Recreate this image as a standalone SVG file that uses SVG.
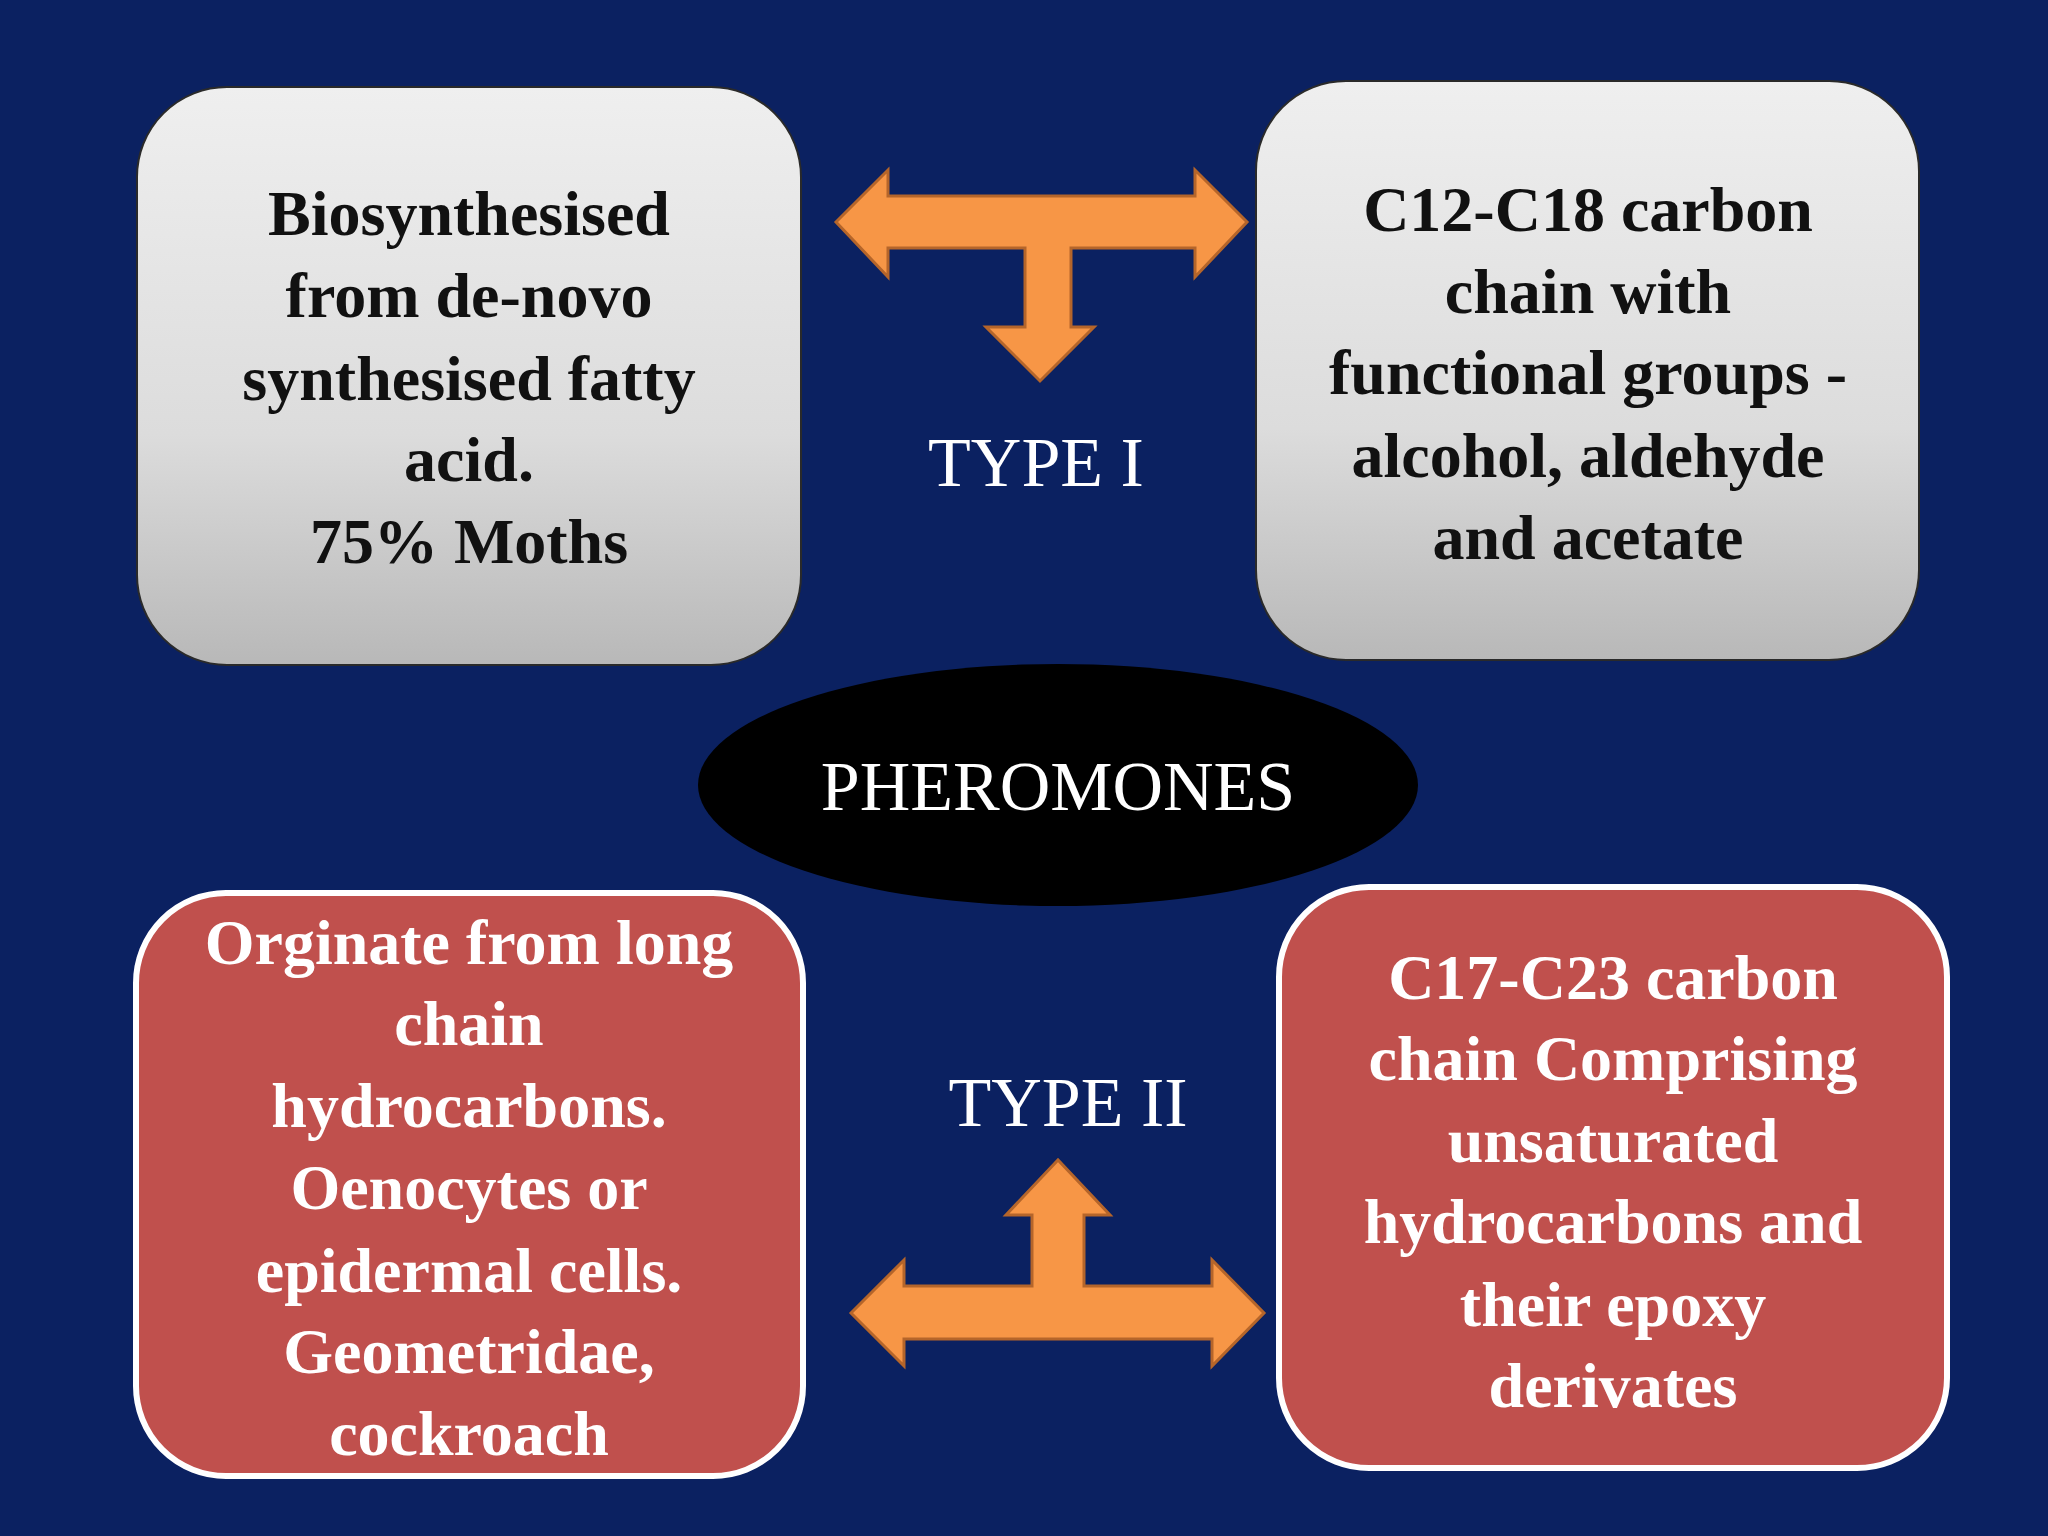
<svg xmlns="http://www.w3.org/2000/svg" width="2048" height="1536" viewBox="0 0 2048 1536">
<defs>
<linearGradient id="g" x1="0" y1="0" x2="0" y2="1"><stop offset="0" stop-color="#efefef"/><stop offset="0.6" stop-color="#dcdcdc"/><stop offset="1" stop-color="#b8b8b8"/></linearGradient>
<style>
.gbox{fill:url(#g);stroke:#2a2a2a;stroke-width:2}
.rbox{fill:#c0504d;stroke:#ffffff;stroke-width:6}
.bt{font-family:"Liberation Serif",serif;font-weight:bold;font-size:64px;text-anchor:middle}
.dark{fill:#111}
.light{fill:#fff}
.lbl{font-family:"Liberation Serif",serif;font-size:70px;fill:#fff;text-anchor:middle}
.arr{fill:#f79646;stroke:#b5652a;stroke-width:3}
</style>
</defs>
<rect width="2048" height="1536" fill="#0b2161"/>
<g id="tl"><rect class="gbox" x="137" y="87" width="664" height="578" rx="90"/>
<text class="bt dark" x="469"><tspan x="469" y="235">Biosynthesised</tspan><tspan x="469" y="317">from de-novo</tspan><tspan x="469" y="400">synthesised fatty</tspan><tspan x="469" y="481">acid.</tspan><tspan x="469" y="563">75% Moths</tspan></text></g>
<g id="tr"><rect class="gbox" x="1256" y="81" width="663" height="579" rx="90"/>
<text class="bt dark"><tspan x="1588" y="231">C12-C18 carbon</tspan><tspan x="1588" y="313">chain with</tspan><tspan x="1588" y="394">functional groups -</tspan><tspan x="1588" y="477">alcohol, aldehyde</tspan><tspan x="1588" y="559">and acetate</tspan></text></g>
<g id="bl"><rect class="rbox" x="136" y="893" width="667" height="583" rx="90"/>
<text class="bt light"><tspan x="469" y="964">Orginate from long</tspan><tspan x="469" y="1045">chain</tspan><tspan x="469" y="1127">hydrocarbons.</tspan><tspan x="469" y="1209">Oenocytes or</tspan><tspan x="469" y="1292">epidermal cells.</tspan><tspan x="469" y="1373">Geometridae,</tspan><tspan x="469" y="1455">cockroach</tspan></text></g>
<g id="br"><rect class="rbox" x="1279" y="887" width="668" height="581" rx="90"/>
<text class="bt light"><tspan x="1613" y="999">C17-C23 carbon</tspan><tspan x="1613" y="1080">chain Comprising</tspan><tspan x="1613" y="1162">unsaturated</tspan><tspan x="1613" y="1243">hydrocarbons and</tspan><tspan x="1613" y="1326">their epoxy</tspan><tspan x="1613" y="1407">derivates</tspan></text></g>
<g id="center"><ellipse cx="1058" cy="785" rx="360" ry="121" fill="#000"/>
<text class="lbl" x="1058" y="810" font-size="64">PHEROMONES</text></g>
<g id="type1"><text class="lbl" x="1036" y="486">TYPE I</text></g>
<g id="type2"><text class="lbl" x="1068" y="1126">TYPE II</text></g>
<g id="connectors">
<polygon class="arr" points="836,222 888,170 888,196 1195,196 1195,170 1247,222 1195,277 1195,248 1071,248 1071,327 1094,327 1040,381 986,327 1025,327 1025,248 888,248 888,277"/>
<polygon class="arr" points="851,1313 904,1260 904,1286 1032,1286 1032,1215 1006,1215 1058,1160 1110,1215 1084,1215 1084,1286 1212,1286 1212,1260 1264,1313 1212,1366 1212,1339 904,1339 904,1366"/>
</g>
</svg>
